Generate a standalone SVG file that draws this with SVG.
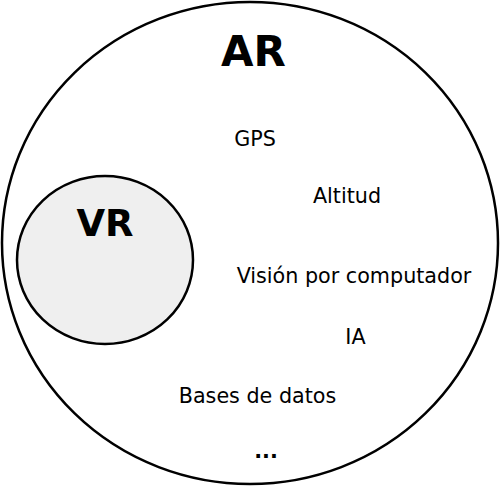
<svg xmlns="http://www.w3.org/2000/svg" width="500" height="486" viewBox="0 0 500 486">
<style>
.shape{stroke:#000;stroke-width:2.5}
.lbl{font-family:"DejaVu Sans",sans-serif;font-size:20.7px;fill:#000;text-anchor:middle}
.big{font-family:"DejaVu Sans",sans-serif;font-weight:bold;fill:#000;text-anchor:middle}
</style>
<rect width="500" height="486" fill="#fff"/>
<g id="AR">
<ellipse class="shape" cx="250" cy="243" rx="248" ry="241" fill="#fff"/>
<text class="big" x="253.5" y="66" font-size="42">AR</text>
</g>
<g id="VR">
<ellipse class="shape" cx="105" cy="260" rx="88" ry="84" fill="#efefef"/>
<text class="big" x="105" y="236" font-size="37">VR</text>
</g>
<g id="items">
<text class="lbl" x="255" y="146">GPS</text>
<text class="lbl" x="347" y="203">Altitud</text>
<text class="lbl" x="354" y="283">Visión por computador</text>
<text class="lbl" x="355.5" y="344">IA</text>
<text class="lbl" x="257.5" y="403">Bases de datos</text>
<text class="lbl" x="266" y="458" font-size="28" font-weight="bold">...</text>
</g>
</svg>
